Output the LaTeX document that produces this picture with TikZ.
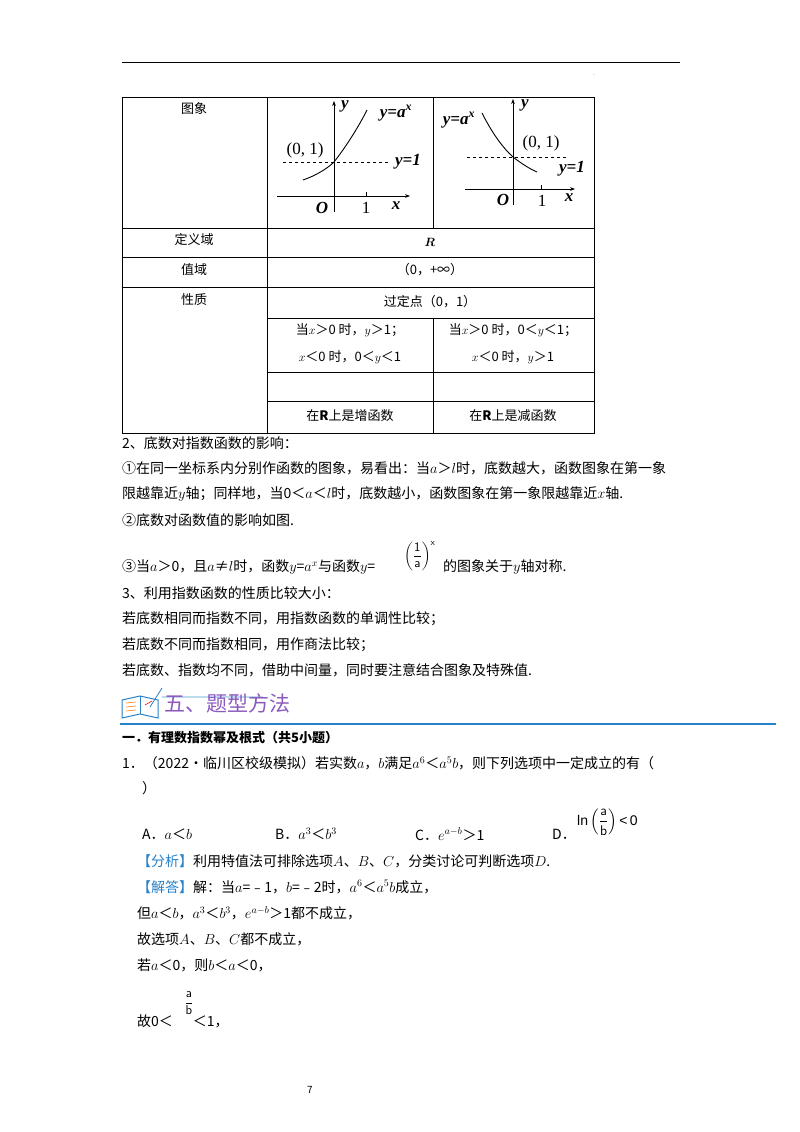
\documentclass[tikz,border=0pt]{standalone}
\usepackage{amsmath}
\usepackage{fontspec}
\setmainfont{Noto Sans CJK SC}
\newfontfamily\tms{Liberation Serif}
\newfontfamily\ars{Liberation Sans}
\usetikzlibrary{arrows.meta}
\definecolor{pur}{RGB}{140,90,190}
\definecolor{blu}{RGB}{40,130,200}
\tikzset{x=1pt,y=-1pt,
 t/.style={anchor=west,inner sep=0pt,font=\fontsize{14}{15}\selectfont},
 c/.style={inner sep=0pt,font=\fontsize{13}{14}\selectfont},
 g/.style={inner sep=0pt,font=\tms\bfseries\itshape\fontsize{17}{17}\selectfont},
 gl/.style={inner sep=0pt,font=\tms\fontsize{17}{17}\selectfont},
 ax/.style={line width=0.9pt,-{Stealth[length=5pt]}}}
\begin{document}
\begin{tikzpicture}
\useasboundingbox[fill=white] (0,0) rectangle (800,1132);
\draw[line width=1pt] (122,63) -- (680,63);
\node[inner sep=0pt,font=\tiny] (dot) at (594,75) {.};
% table
\draw[line width=0.8pt] (122,97) rectangle (594,433);
\foreach \yy in {228,257,287} \draw[line width=0.6pt] (122,\yy)--(594,\yy);
\foreach \yy in {318,372,401} \draw[line width=0.6pt] (267,\yy)--(594,\yy);
\draw[line width=0.6pt] (267,97)--(267,433);
\draw[line width=0.6pt] (433,97)--(433,228);
\draw[line width=0.6pt] (433,318)--(433,433);
\node[c] (h1) at (194,109) {图象};
\node[c] (h2) at (194,240) {定义域};
\node[c] (h3) at (194,270) {值域};
\node[c] (h4) at (194,300) {性质};
\node[c] (r) at (430,242) {$\boldsymbol{R}$};
\node[c] (v) at (430,270) {（0，+∞）};
\node[c] (p) at (430,302) {过定点（0，1）};
\node[c] (q1) at (350,330) {当$x$＞0 时，$y$＞1；};
\node[c] (q2) at (350,357) {$x$＜0 时，0＜$y$＜1};
\node[c] (q3) at (513,330) {当$x$＞0 时，0＜$y$＜1；};
\node[c] (q4) at (513,357) {$x$＜0 时，$y$＞1};
\node[c] (q5) at (350,416) {在\textbf{R}上是增函数};
\node[c] (q6) at (513,416) {在\textbf{R}上是减函数};
% left graph
\coordinate (lx0) at (277,196); \coordinate (lx1) at (410,196);
\coordinate (ly0) at (334,212); \coordinate (ly1) at (334,101);
\draw[ax] (lx0)--(lx1); \draw[ax] (ly0)--(ly1);
\draw[dashed,line width=0.6pt] (283,162)--(388,162);
\draw[line width=0.9pt] (303,180) .. controls (320,174) and (330,166) .. (334,162) .. controls (345,148) and (358,128) .. (367,110);
\draw[line width=0.7pt] (366,196)--(366,192);
\node[g] (la) at (345,106) {y};
\node[g] (lb) at (396,113) {y=a\textsuperscript{x}};
\node[gl] (lc) at (305,150) {(0, 1)};
\node[g] (ld) at (408,162) {y=1};
\node[g] (le) at (322,208) {O};
\node[gl] (lf) at (366,208) {1};
\node[g] (lg) at (396,206) {x};
% right graph
\coordinate (rx0) at (465,189); \coordinate (rx1) at (575,189);
\coordinate (ry0) at (513,205); \coordinate (ry1) at (513,99);
\draw[ax] (rx0)--(rx1); \draw[ax] (ry0)--(ry1);
\draw[dashed,line width=0.6pt] (467,157)--(567,157);
\draw[line width=0.9pt] (482,113) .. controls (492,133) and (503,148) .. (513,157) .. controls (522,164) and (530,169) .. (537,172);
\draw[line width=0.7pt] (541,189)--(541,185);
\node[g] (ra) at (459,120) {y=a\textsuperscript{x}};
\node[g] (rb) at (525,105) {y};
\node[gl] (rc) at (541,143) {(0, 1)};
\node[g] (rd) at (572,169) {y=1};
\node[g] (re) at (503,200) {O};
\node[gl] (rf) at (542,201) {1};
\node[g] (rg) at (569,198) {x};
% body text
\node[t] (a1) at (122,443) {2、底数对指数函数的影响：};
\node[t] (a2) at (122,468) {①在同一坐标系内分别作函数的图象，易看出：当$a$＞$l$时，底数越大，函数图象在第一象};
\node[t] (a3) at (122,494) {限越靠近$y$轴；同样地，当0＜$a$＜$l$时，底数越小，函数图象在第一象限越靠近$x$轴.};
\node[t] (a4) at (122,520) {②底数对函数值的影响如图.};
\node[t] (a5) at (122,567) {③当$a$＞0，且$a$≠$l$时，函数$y$=$a^x$与函数$y$=};
\node[inner sep=0pt,font=\ars\fontsize{13}{13}\selectfont,anchor=west] (fr) at (404,556) {$\left(\dfrac{\mathsf{1}}{\mathsf{a}}\right)^{\mathsf{x}}$};
\node[t] (a6) at (443,567) {的图象关于$y$轴对称.};
\node[t] (a7) at (122,593) {3、利用指数函数的性质比较大小：};
\node[t] (a8) at (122,619) {若底数相同而指数不同，用指数函数的单调性比较；};
\node[t] (a9) at (122,645) {若底数不同而指数相同，用作商法比较；};
\node[t] (a10) at (122,670) {若底数、指数均不同，借助中间量，同时要注意结合图象及特殊值.};
% heading
\draw[blu,line width=1pt,fill=white] (122,700) -- (140,696) -- (158,700) -- (158,718) -- (140,714) -- (122,718) -- cycle;
\draw[blu,line width=0.8pt] (140,696)--(140,714);
\draw[orange,line width=0.6pt] (126,703)--(136,702) (126,707)--(136,706) (126,711)--(136,710);
\draw[red,line width=0.6pt] (145,705)--(152,701);
\draw[blu,line width=0.8pt] (150,707)--(162,688);
\draw[blu!30,line width=1.5pt] (162,697)--(263,697);
\node[t,pur,font=\fontsize{21}{21}\selectfont] (hd) at (164,703) {五、题型方法};
\draw[blu,line width=1.2pt] (120,724)--(776,724);
\node[t,font=\bfseries\fontsize{13}{14}\selectfont] (s1) at (122,738) {一．有理数指数幂及根式（共5小题）};
\node[t] (b1) at (122,763) {1．（2022•临川区校级模拟）若实数$a$，$b$满足$a^6$＜$a^5b$，则下列选项中一定成立的有（};
\node[t] (b2) at (142,788) {）};
\node[t] (oA) at (142,834) {A．$a$＜$b$};
\node[t] (oB) at (275,834) {B．$a^3$＜$b^3$};
\node[t] (oC) at (415,834) {C．$e^{a-b}$＞1};
\node[t] (oD) at (552,834) {D．};
\node[inner sep=0pt,font=\ars\fontsize{14}{14}\selectfont,anchor=west] (lnD) at (577,822) {ln\,$\left(\dfrac{\mathsf{a}}{\mathsf{b}}\right)$\,<\,0};
\node[t] (b3) at (137,861) {{\color{blu}【分析】}利用特值法可排除选项$A$、$B$、$C$，分类讨论可判断选项$D$.};
\node[t] (b4) at (137,887) {{\color{blu}【解答】}解：当$a$=﹣1，$b$=﹣2时，$a^6$＜$a^5b$成立，};
\node[t] (b5) at (137,913) {但$a$＜$b$，$a^3$＜$b^3$，$e^{a-b}$＞1都不成立，};
\node[t] (b6) at (137,939) {故选项$A$、$B$、$C$都不成立，};
\node[t] (b7) at (137,965) {若$a$＜0，则$b$＜$a$＜0，};
\node[inner sep=0pt,font=\ars\fontsize{13}{13}\selectfont] (fa) at (189,1003) {$\dfrac{\mathsf{a}}{\mathsf{b}}$};
\node[t] (b8) at (137,1021) {故0＜\hspace{20pt}＜1，};
\node[inner sep=0pt,font=\fontsize{10}{10}\selectfont] (pg) at (310,1090) {7};
\end{tikzpicture}
\end{document}
